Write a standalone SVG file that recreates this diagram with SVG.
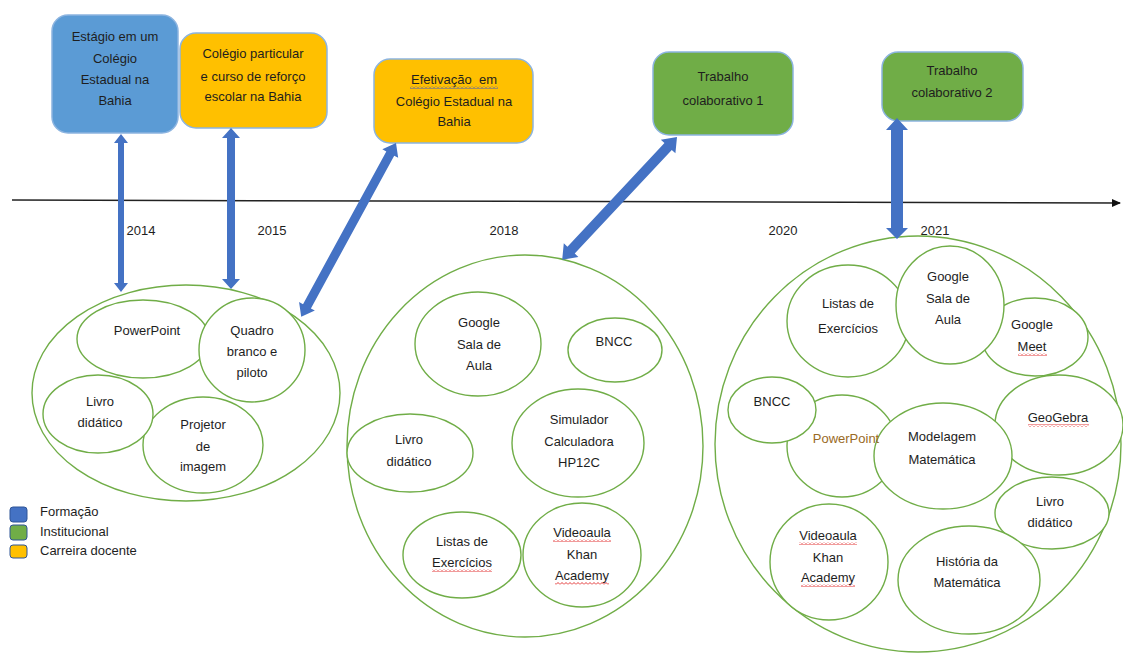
<svg xmlns="http://www.w3.org/2000/svg" width="1123" height="655" viewBox="0 0 1123 655">
<defs>
<style>
text{font-family:"Liberation Sans",Arial,sans-serif;font-size:13px;fill:#1e1e1e;text-anchor:middle}
.box{stroke:#8CB4E0;stroke-width:1.5}
.blue{fill:#5B9BD5}
.org{fill:#FFC000}
.grn{fill:#70AD47}
.ell{fill:#fff;stroke:#70AD47;stroke-width:1.4}
.arr{fill:#4472C4}
.leg{text-anchor:start}
</style>
<pattern id="sqR" width="4" height="3" patternUnits="userSpaceOnUse"><path d="M0,2.5 L2,0.5 L4,2.5" stroke="#E02020" fill="none" stroke-width="0.9"/></pattern>
<pattern id="sqB" width="4" height="3" patternUnits="userSpaceOnUse"><path d="M0,2.5 L2,0.5 L4,2.5" stroke="#3050D0" fill="none" stroke-width="0.9"/></pattern>
<marker id="tl" markerWidth="10" markerHeight="10" refX="8" refY="5" orient="auto" markerUnits="userSpaceOnUse"><path d="M0,1 L9,5 L0,9 Z" fill="#111"/></marker>
</defs>
<rect width="1123" height="655" fill="#fff"/>

<g id="timeline">
<line x1="12" y1="200" x2="1120" y2="203" stroke="#222" stroke-width="1.5" marker-end="url(#tl)"/>
<text x="141" y="235">2014</text>
<text x="272" y="235">2015</text>
<text x="504" y="235">2018</text>
<text x="783" y="235">2020</text>
<text x="935" y="235">2021</text>
</g>

<g id="box1">
<rect class="box blue" x="52" y="15" width="126" height="118" rx="16"/>
<text x="115" y="41">Estágio em um</text>
<text x="115" y="63">Colégio</text>
<text x="115" y="84">Estadual na</text>
<text x="115" y="105">Bahia</text>
</g>
<g id="box2">
<rect class="box org" x="180" y="33" width="147" height="95" rx="16"/>
<text x="253" y="58">Colégio particular</text>
<text x="253" y="81">e curso de reforço</text>
<text x="253" y="101">escolar na Bahia</text>
</g>
<g id="box3">
<rect class="box org" x="374" y="59" width="159" height="84" rx="16"/>
<text x="454" y="84" style="white-space:pre">Efetivação  em</text>
<rect x="410" y="86" width="88" height="3" fill="url(#sqB)"/>
<text x="454" y="106">Colégio Estadual na</text>
<text x="454" y="126">Bahia</text>
</g>
<g id="box4">
<rect class="box grn" x="653" y="52" width="140" height="83" rx="16"/>
<text x="723" y="81">Trabalho</text>
<text x="723" y="105">colaborativo 1</text>
</g>
<g id="box5">
<rect class="box grn" x="882" y="52" width="141" height="69" rx="16"/>
<text x="952" y="75">Trabalho</text>
<text x="952" y="97">colaborativo 2</text>
</g>

<g id="group2014">
<ellipse class="ell" cx="186" cy="393" rx="154" ry="108"/>
<g id="g1-powerpoint"><ellipse class="ell" cx="143" cy="339" rx="66" ry="39"/><text x="147" y="335">PowerPoint</text></g>
<g id="g1-quadro"><ellipse class="ell" cx="252" cy="350" rx="53" ry="52"/><text x="252" y="335">Quadro</text><text x="252" y="356">branco e</text><text x="252" y="377">piloto</text></g>
<g id="g1-projetor"><ellipse class="ell" cx="203" cy="445" rx="60" ry="48"/><text x="203" y="429">Projetor</text><text x="203" y="451">de</text><text x="203" y="471">imagem</text></g>
<g id="g1-livro"><ellipse class="ell" cx="98" cy="414" rx="55" ry="39"/><text x="100" y="406">Livro</text><text x="100" y="427">didático</text></g>
</g>

<g id="group2018">
<ellipse class="ell" cx="525" cy="446" rx="178" ry="191"/>
<g id="g2-google"><ellipse class="ell" cx="478" cy="344" rx="63" ry="52"/><text x="479" y="327">Google</text><text x="479" y="349">Sala de</text><text x="479" y="370">Aula</text></g>
<g id="g2-bncc"><ellipse class="ell" cx="615" cy="350" rx="47" ry="32"/><text x="614" y="346">BNCC</text></g>
<g id="g2-livro"><ellipse class="ell" cx="410" cy="453" rx="63" ry="39"/><text x="409" y="444">Livro</text><text x="409" y="466">didático</text></g>
<g id="g2-simulador"><ellipse class="ell" cx="578" cy="443" rx="66" ry="54"/><text x="579" y="424">Simulador</text><text x="579" y="446">Calculadora</text><text x="579" y="467">HP12C</text></g>
<g id="g2-listas"><ellipse class="ell" cx="462" cy="555" rx="59" ry="43"/><text x="462" y="546">Listas de</text><text x="462" y="567">Exercícios</text><rect x="432" y="569" width="60" height="3" fill="url(#sqR)"/></g>
<g id="g2-video"><ellipse class="ell" cx="582" cy="555" rx="59" ry="52"/><text x="582" y="537">Videoaula</text><rect x="553" y="539" width="58" height="3" fill="url(#sqR)"/><text x="582" y="559">Khan</text><text x="582" y="580">Academy</text><rect x="555" y="582" width="54" height="3" fill="url(#sqR)"/></g>
</g>

<g id="group2021">
<ellipse class="ell" cx="918" cy="444" rx="203" ry="208"/>
<g id="g3-listas"><ellipse class="ell" cx="848" cy="321" rx="61" ry="56"/><text x="848" y="308">Listas de</text><text x="848" y="333">Exercícios</text></g>
<g id="g3-meet"><ellipse class="ell" cx="1035" cy="337" rx="53" ry="39"/><text x="1032" y="329">Google</text><text x="1032" y="351">Meet</text><rect x="1018" y="353" width="29" height="3" fill="url(#sqR)"/></g>
<g id="g3-google"><ellipse class="ell" cx="950" cy="305" rx="54" ry="59"/><text x="948" y="281">Google</text><text x="948" y="303">Sala de</text><text x="948" y="324">Aula</text></g>
<g id="g3-powerpoint"><ellipse class="ell" cx="842" cy="446" rx="55" ry="51"/></g>
<g id="g3-bncc"><ellipse class="ell" cx="772" cy="410" rx="44" ry="33"/><text x="772" y="406">BNCC</text></g>
<g id="g3-geogebra"><ellipse class="ell" cx="1059" cy="425" rx="64" ry="50"/><text x="1058" y="422">GeoGebra</text><rect x="1028" y="424" width="61" height="3" fill="url(#sqR)"/></g>
<g id="g3-modelagem"><ellipse class="ell" cx="943" cy="456" rx="69" ry="53"/><text x="942" y="441">Modelagem</text><text x="942" y="464">Matemática</text></g>
<g id="g3-powerpoint-label"><text x="846" y="443" style="fill:#9A6A25">PowerPoint</text></g>
<g id="g3-livro"><ellipse class="ell" cx="1052" cy="513" rx="57" ry="36"/><text x="1050" y="506">Livro</text><text x="1050" y="527">didático</text></g>
<g id="g3-video"><ellipse class="ell" cx="829" cy="562" rx="59" ry="58"/><text x="828" y="540">Videoaula</text><rect x="799" y="542" width="58" height="3" fill="url(#sqR)"/><text x="828" y="562">Khan</text><text x="828" y="582">Academy</text><rect x="801" y="584" width="54" height="3" fill="url(#sqR)"/></g>
<g id="g3-historia"><ellipse class="ell" cx="969" cy="580" rx="71" ry="54"/><text x="967" y="566">História da</text><text x="967" y="587">Matemática</text></g>
</g>

<g id="connectors">
<path class="arr" d="M121,134 L128,143 L124,143 L124,283 L128,283 L121,292 L114,283 L118,283 L118,143 L114,143 Z"/>
<path class="arr" d="M231,128 L240,138 L235,138 L235,279 L240,279 L231,289 L222,279 L227,279 L227,138 L222,138 Z"/>
<path class="arr" transform="translate(396,143) rotate(118.6)" d="M0,0 L12,-9 L12,-4.5 L186,-4.5 L186,-9 L198,0 L186,9 L186,4.5 L12,4.5 L12,9 Z"/>
<path class="arr" transform="translate(677,137) rotate(133.1)" d="M0,0 L13,-10 L13,-5 L155,-5 L155,-10 L168,0 L155,10 L155,5 L13,5 L13,10 Z"/>
<path class="arr" d="M897,118 L908,130 L903,130 L903,228 L908,228 L897,239 L886,228 L891,228 L891,130 L886,130 Z"/>
</g>

<g id="legend">
<rect x="10" y="507" width="17" height="15" rx="3" fill="#4472C4" stroke="#2F5597" stroke-width="1"/>
<rect x="10" y="525" width="17" height="15" rx="3" fill="#70AD47" stroke="#2F5597" stroke-width="1"/>
<rect x="10" y="545" width="17" height="13" rx="3" fill="#FFC000" stroke="#2F5597" stroke-width="1"/>
<text class="leg" x="40" y="516">Formação</text>
<text class="leg" x="40" y="536">Institucional</text>
<text class="leg" x="40" y="555">Carreira docente</text>
</g>
</svg>
